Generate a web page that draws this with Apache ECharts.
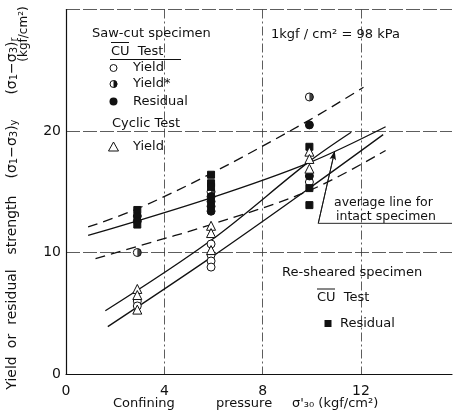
<!DOCTYPE html>
<html>
<head>
<meta charset="utf-8">
<script src="https://cdn.jsdelivr.net/npm/echarts@6/dist/echarts.min.js"></script>
<style>
html,body{margin:0;padding:0;background:#fff;}
#chart{width:453px;height:418px;}
</style>
</head>
<body>
<div id="chart"></div>
<script>
// ---- data (confining pressure kgf/cm2, strength kgf/cm2) ----
const xTicks = [0, 4, 8, 12];
const yTicks = [0, 10, 20];
const sawYield = [[2.9,6.0],[2.9,5.6],[5.9,10.7],[5.9,9.8],[5.9,9.3],[5.9,8.8],[9.9,15.8]];
const sawYieldStar = [[2.9,10.0],[5.9,15.0],[9.9,22.8]];
const sawResidual = [[2.9,13.0],[2.9,12.6],[5.9,14.6],[5.9,14.2],[5.9,13.8],[5.9,13.4],[9.9,20.5],[9.9,16.3]];
const reshearResidual = [[2.9,13.5],[2.9,12.3],[5.9,16.4],[5.9,15.7],[5.9,15.4],[9.9,18.7],[9.9,15.3],[9.9,13.9]];
const cyclicYield = [[2.9,7.0],[2.9,6.5],[2.9,5.3],[5.9,12.2],[5.9,11.6],[5.9,10.2],[9.9,18.3],[9.9,17.7],[9.9,16.9]];
const upperDashed = [[0.9,12.1],[2.9,13.6],[5.9,16.5],[9.9,20.9],[12.1,23.6]];
const lowerDashed = [[1.2,9.5],[2.9,10.5],[5.9,12.3],[9.9,15.1],[13.0,18.4]];
const intactAverage = [[0.9,11.4],[5.9,14.5],[9.9,17.4],[13.0,20.35]];
const yieldUpper = [[1.6,5.2],[5.9,11.0],[9.9,17.5],[11.6,19.9]];
const yieldLower = [[1.7,3.9],[5.9,9.6],[9.9,15.3],[12.9,19.7]];
const leaderLine = [[15.7,12.4],[10.26,12.4]];
const leaderArrow = [[10.26,12.4],[10.93,18.35]];

const FONT = '"DejaVu Sans", sans-serif';
const INK = '#111';

function lineSeries(data, dashed){
  return {type:'line', data:data, smooth:0.35, symbol:'none', silent:true,
    lineStyle:{color:INK, width:1.3, type: dashed ? [10,6] : 'solid'}, z:3};
}
function scatter(data, symbol, size, fill, extra){
  return Object.assign({type:'scatter', data:data, symbol:symbol, symbolSize:size,
    itemStyle:{color:fill, borderColor:INK, borderWidth:1, opacity:1}, z:5, silent:true}, extra||{});
}

const chart = echarts.init(document.getElementById('chart'), null, {renderer:'canvas'});

function txt(x, y, text, size){
  return {type:'text', x:x, y:y, z:20,
    style:{text:text, font:(size||13)+'px '+FONT, fill:INK,
      align:'left', verticalAlign:'middle', textAlign:'left', textVerticalAlign:'middle'}};
}
function vtxt(x, y, text, size){
  return {type:'text', x:x, y:y, z:20, rotation:Math.PI/2,
    style:{text:text, font:(size||14)+'px '+FONT, fill:INK,
      align:'center', verticalAlign:'middle', textAlign:'center', textVerticalAlign:'middle',
      rich:{n:{fontSize:size||14, fontFamily:'DejaVu Sans', fill:INK},
            s:{fontSize:10, fontFamily:'DejaVu Sans', fill:INK, verticalAlign:'bottom', padding:[5,0,0,0]}}}};
}
function hline(x1, x2, y){
  return {type:'line', z:20, shape:{x1:x1, y1:y, x2:x2, y2:y}, style:{stroke:INK, lineWidth:1}};
}

const option = {
  animation:false,
  backgroundColor:'#fff',
  grid:{left:66, right:1, top:9.5, bottom:44, containLabel:false},
  xAxis:{type:'value', min:0, max:15.7, interval:4,
    axisLine:{show:true, onZero:false, lineStyle:{color:INK, width:1.2}},
    axisTick:{show:false},
    axisLabel:{color:INK, fontSize:14, fontFamily:FONT, margin:10, showMaxLabel:false,
      formatter:v => xTicks.indexOf(v) >= 0 ? String(v) : ''},
    splitLine:{show:true, showMaxLine:false, lineStyle:{color:'#333', width:0.8, type:[9,3,2,3]}}
  },
  yAxis:{type:'value', min:0, max:30, interval:10,
    axisLine:{show:true, onZero:false, lineStyle:{color:INK, width:1.2}},
    axisTick:{show:false},
    axisLabel:{color:INK, fontSize:14, fontFamily:FONT, margin:5,
      formatter:v => yTicks.indexOf(v) >= 0 ? String(v) : ''},
    splitLine:{show:true, lineStyle:{color:'#333', width:0.8, type:[14,3]}}
  },
  series:[
    lineSeries(upperDashed, true),
    lineSeries(lowerDashed, true),
    lineSeries(intactAverage, false),
    lineSeries(yieldUpper, false),
    lineSeries(yieldLower, false),
    {type:'line', data:leaderLine, symbol:'none', silent:true, smooth:false,
      lineStyle:{color:INK, width:0.9}, z:3},
    {type:'line', data:leaderArrow, symbol:'none', silent:true, smooth:false,
      lineStyle:{color:INK, width:0.9}, z:3,
      markLine:{silent:true, symbol:['none','arrow'], symbolSize:[5,9], label:{show:false},
        lineStyle:{color:INK, width:0.9, type:'solid'},
        data:[[{coord:leaderArrow[0]},{coord:leaderArrow[1]}]]}},
    scatter(sawYield, 'circle', 8, '#fff'),
    scatter(sawYieldStar, 'circle', 8, '#fff'),
    scatter(sawYieldStar, 'path://M0,-1 A1,1 0 0,1 0,1 Z', [4,8], INK, {symbolOffset:[2,0], itemStyle:{color:INK, borderWidth:0}}),
    scatter(sawResidual, 'circle', 8, INK),
    scatter(reshearResidual, 'rect', 7, INK),
    scatter(cyclicYield, 'triangle', 9, '#fff')
  ],
  graphic:[
    // y axis title, word by word
    vtxt(12, 373, 'Yield'),
    vtxt(12, 341, 'or'),
    vtxt(12, 297, 'residual'),
    vtxt(12, 225, 'strength'),
    vtxt(12, 149, '(σ{s|1}−σ{s|3}){s|y}'),
    vtxt(12, 66, '(σ{s|1}−σ{s|3}){s|r}'),
    vtxt(24, 34, '(kgf/cm²)', 12),
    // x axis title
    txt(113, 404, 'Confining', 13),
    txt(216, 404, 'pressure', 13),
    txt(292, 404, "σ'₃₀ (kgf/cm²)", 13),
    // saw-cut legend
    txt(92, 34, 'Saw-cut specimen', 13),
    txt(111, 52, 'CU  Test', 13),
    hline(111, 129, 42.5),
    hline(110, 181, 59.5),
    {type:'circle', shape:{cx:113.5, cy:68, r:3.5}, z:20, style:{fill:'#fff', stroke:INK, lineWidth:1}},
    txt(133, 68, 'Yield', 13),
    {type:'circle', shape:{cx:113.5, cy:84, r:3.5}, z:20, style:{fill:'#fff', stroke:INK, lineWidth:1}},
    {type:'sector', shape:{cx:113.5, cy:84, r:3.8, r0:0, startAngle:-Math.PI/2, endAngle:Math.PI/2}, z:21, style:{fill:INK}},
    txt(133, 84, 'Yield*', 13),
    {type:'circle', shape:{cx:113.5, cy:101.5, r:4}, z:20, style:{fill:INK}},
    txt(133, 101.5, 'Residual', 13),
    txt(112, 124, 'Cyclic Test', 13),
    {type:'polygon', shape:{points:[[113.5,142],[118.5,151],[108.5,151]]}, z:20, style:{fill:'#fff', stroke:INK, lineWidth:1}},
    txt(133, 147, 'Yield', 13),
    // unit note
    txt(271, 35, '1kgf / cm² = 98 kPa', 13),
    // re-sheared legend
    txt(282, 273, 'Re-sheared specimen', 13),
    txt(317, 298, 'CU  Test', 13),
    hline(317, 335, 289),
    {type:'rect', shape:{x:324.5, y:320, width:7, height:7}, z:20, style:{fill:INK}},
    txt(340, 323.5, 'Residual', 13),
    // intact specimen label
    txt(334, 203, 'average line for', 12.5),
    txt(336, 217, 'intact specimen', 12.5)
  ]
};
chart.setOption(option);
</script>
</body>
</html>
